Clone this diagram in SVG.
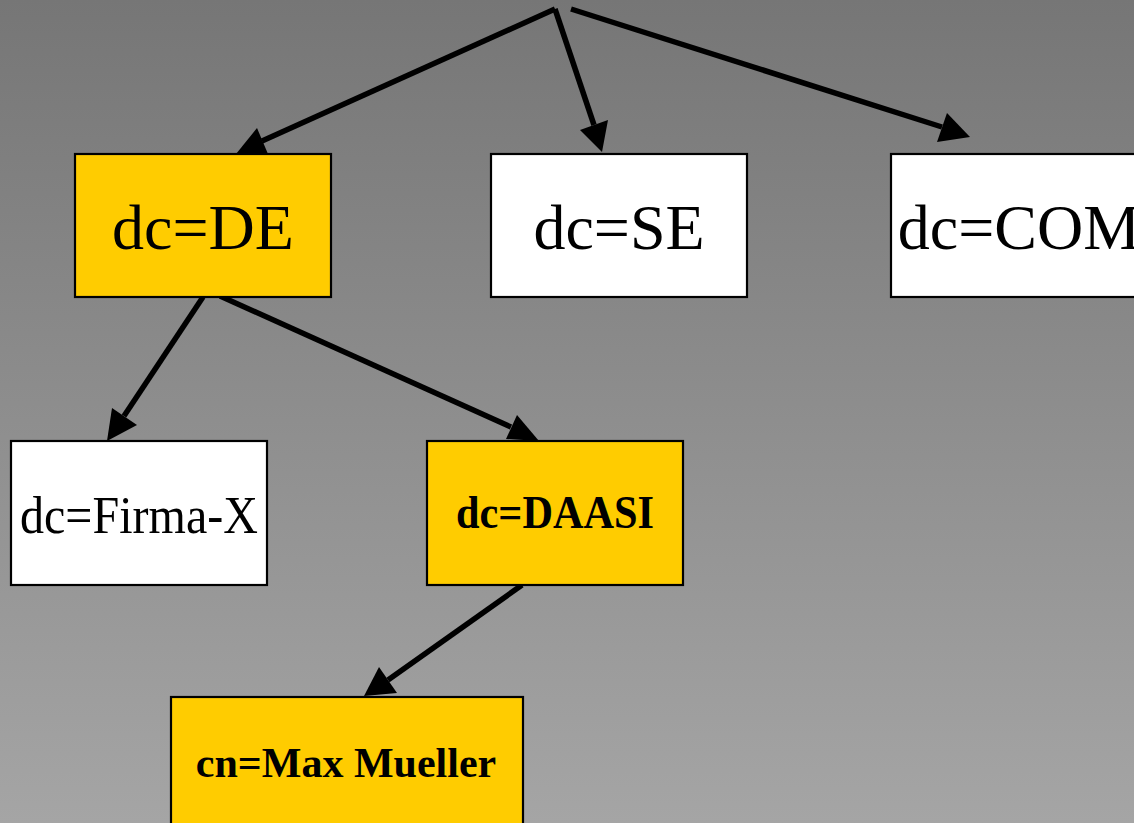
<svg xmlns="http://www.w3.org/2000/svg" width="1134" height="823" viewBox="0 0 1134 823">
<defs>
<linearGradient id="bg" x1="0" y1="0" x2="0" y2="1">
<stop offset="0" stop-color="#767676"/>
<stop offset="1" stop-color="#a5a5a5"/>
</linearGradient>
<style>
.edge{stroke:#000;stroke-width:5.5;fill:none}
.head{fill:#000;stroke:none}
.box{stroke:#000;stroke-width:2.2}
.gold{fill:#ffcc00}
.white{fill:#ffffff}
.t{font-family:"Liberation Serif","Times New Roman",serif;fill:#000;text-anchor:middle}
.big{font-size:64px}
.mid{font-size:52px}
.bold{font-weight:bold}
</style>
</defs>
<rect x="0" y="0" width="1134" height="823" fill="url(#bg)"/>
<g id="connectors">
<line class="edge" x1="555" y1="9" x2="262" y2="141"/>
<polygon class="head" points="236,154 257,128 268,154"/>
<line class="edge" x1="555" y1="9" x2="594" y2="125"/>
<polygon class="head" points="602,152 580,130 608,120"/>
<line class="edge" x1="571" y1="9" x2="942" y2="127"/>
<polygon class="head" points="970,137 947,113 937,142"/>
<line class="edge" x1="203" y1="297" x2="124" y2="416"/>
<polygon class="head" points="107,441 112,408 137,425"/>
<line class="edge" x1="220" y1="296" x2="511" y2="427"/>
<polygon class="head" points="539,441 517,415 506,439"/>
<line class="edge" x1="522" y1="585" x2="388" y2="680"/>
<polygon class="head" points="364,696 379,667 397,693"/>
</g>
<g id="node-de">
<rect class="box gold" x="75" y="154" width="256" height="143"/>
<text class="t big" x="203" y="249">dc=DE</text>
</g>
<g id="node-se">
<rect class="box white" x="491" y="154" width="256" height="143"/>
<text class="t big" x="619" y="249">dc=SE</text>
</g>
<g id="node-com">
<rect class="box white" x="891" y="154" width="256" height="143"/>
<text class="t big" x="1019" y="249">dc=COM</text>
</g>
<g id="node-firma">
<rect class="box white" x="11" y="441" width="256" height="144"/>
<text class="t mid" x="139" y="533" textLength="238" lengthAdjust="spacingAndGlyphs">dc=Firma-X</text>
</g>
<g id="node-daasi">
<rect class="box gold" x="427" y="441" width="256" height="144"/>
<text class="t bold" x="555" y="528" font-size="46" textLength="198" lengthAdjust="spacingAndGlyphs">dc=DAASI</text>
</g>
<g id="node-max">
<rect class="box gold" x="171" y="697" width="352" height="144"/>
<text class="t bold" x="346" y="777" font-size="42">cn=Max Mueller</text>
</g>
</svg>
